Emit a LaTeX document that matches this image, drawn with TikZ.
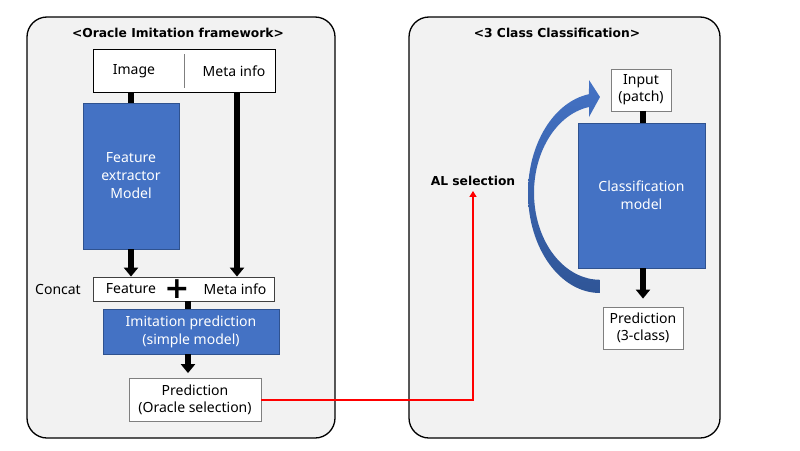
\documentclass[tikz,border=0pt]{standalone}
\usepackage{fontspec}
\setmainfont{Noto Sans}
\newfontfamily\titlefont{DejaVu Sans Bold}
\usetikzlibrary{arrows.meta}
\definecolor{panelbg}{HTML}{F2F2F2}
\definecolor{bluefill}{HTML}{4472C4}
\definecolor{blueline}{HTML}{2F528F}
\definecolor{bluedark}{HTML}{2F5597}
\definecolor{grayline}{HTML}{7F7F7F}
\definecolor{redline}{HTML}{FF0000}
\tikzset{
  panel/.style={draw=black, line width=1.3pt, fill=panelbg, rounded corners=20pt},
  title/.style={font=\titlefont\fontsize{12.3}{15}\selectfont, inner sep=0pt},
  txt/.style={font=\fontsize{14}{16}\selectfont, align=center, inner sep=0pt},
  bluebox/.style={draw=blueline, line width=0.6pt, fill=bluefill, text=white, align=center,
    font=\fontsize{14}{18}\selectfont, inner sep=0pt},
  wbox/.style={draw=black, line width=0.8pt, fill=white, inner sep=0pt},
  gbox/.style={draw=grayline, line width=0.8pt, fill=white, align=center,
    font=\fontsize{14}{17}\selectfont, inner sep=0pt},
  bar/.style={line width=6pt, black},
  barrow/.style={line width=6pt, black, -{Triangle[width=14pt,length=9pt]}},
  redarrow/.style={line width=2pt, redline, -{Triangle[width=7pt,length=6pt]}}
}
\begin{document}
\begin{tikzpicture}[x=1pt,y=-1pt]
\useasboundingbox (0,0) rectangle (800,450);
\fill[white] (0,0) rectangle (800,450);
% panels
\draw[panel] (27,17) rectangle (335,438);
\draw[panel] (409,17) rectangle (720,438);
\node[title] (ltitle) at (178,33) {<Oracle Imitation framework>};
\node[title] (rtitle) at (557,33) {<3 Class Classification>};
% left panel
\node[wbox, minimum width=182pt, minimum height=43pt] (imgbox) at (184,70.5) {};
\draw[grayline, line width=0.6pt] (184,54) -- (184,88);
\node[txt] (imgtxt) at (134,71) {Image};
\node[txt] (metatxt) at (234,71) {Meta info};
\node[bluebox, minimum width=96pt, minimum height=146pt] (feat) at (131,176) {Feature\\extractor\\Model};
\node[wbox, draw=black!75, minimum width=181pt, minimum height=24pt] (concat) at (183.5,289) {};
\node[txt] (feattxt) at (131,289) {Feature};
\node[txt] (meta2txt) at (235,289) {Meta info};
\node[inner sep=0pt, font=\titlefont\fontsize{30}{30}\selectfont] (plus) at (177,289) {+};
\node[txt] (concatlbl) at (58,289) {Concat};
\node[bluebox, minimum width=176pt, minimum height=45pt] (imit) at (191,331.5) {Imitation prediction\\(simple model)};
\node[gbox, minimum width=132pt, minimum height=43pt] (pred) at (195,400) {Prediction\\(Oracle selection)};
% left connectors
\draw[bar] (feat.north |- imgbox.south) -- (feat.north);
\draw[barrow] (feat.south) -- (feat.south |- concat.north);
\draw[barrow] (237,92) coordinate (mtop) -- (mtop |- concat.north);
\draw[bar] (188,301) coordinate (ctop) -- (ctop |- imit.north);
\draw[barrow, shorten >=5pt] (188,354) coordinate (itop) -- (itop |- pred.north);
% right panel
\node[title] (al) at (473,181) {AL selection};
\node[gbox, minimum width=60pt, minimum height=42pt] (input) at (641,90) {Input\\(patch)};
\node[bluebox, minimum width=127pt, minimum height=145pt] (cls) at (641.5,195.5) {Classification\\model};
\node[gbox, minimum width=80pt, minimum height=42pt] (pred3) at (643,328) {Prediction\\(3-class)};
\draw[bar] (643,111) coordinate (intop) -- (intop |- cls.north);
\draw[barrow, shorten >=8pt] (643,268) coordinate (cbot) -- (cbot |- pred3.north);
% curved arrow
\shade[top color=bluefill, bottom color=bluedark, draw=none]
  (600,293) arc[start angle=90, end angle=261.2, x radius=72, y radius=100]
  -- (589,80) -- (600,97) -- (589,117) -- (589,107)
  arc[start angle=260.4, end angle=90, x radius=66, y radius=87] -- cycle;
% red connector
\draw[redarrow, shorten >=5pt] (pred.east) -| (al.south);
\end{tikzpicture}
\end{document}
